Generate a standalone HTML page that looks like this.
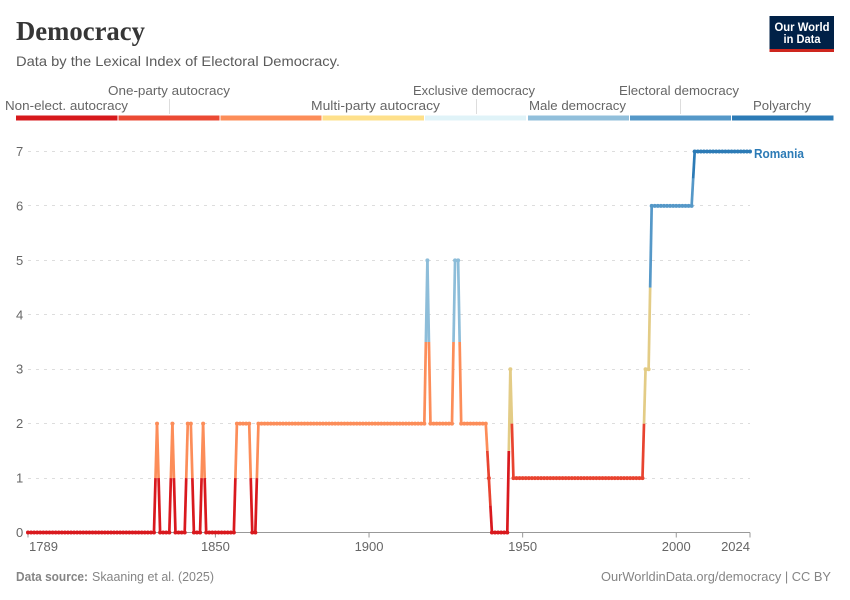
<!DOCTYPE html>
<html lang="en">
<head>
<meta charset="utf-8">
<title>Democracy</title>
<style>
html,body{margin:0;padding:0;background:#fff;}
svg{display:block;font-family:"Liberation Sans",sans-serif;}
</style>
</head>
<body>
<svg id="chart" xmlns="http://www.w3.org/2000/svg" width="850" height="600" viewBox="0 0 850 600">
  <text x="16" y="40" font-family="'Liberation Serif',serif" font-weight="bold" font-size="27" fill="#363636" textLength="129" lengthAdjust="spacingAndGlyphs">Democracy</text>
  <text x="16" y="66" font-size="14" fill="#5b5b5b" textLength="324" lengthAdjust="spacingAndGlyphs">Data by the Lexical Index of Electoral Democracy.</text>

  <g>
    <rect x="769.5" y="16" width="64.5" height="36" fill="#002147"/>
    <rect x="769.5" y="49" width="64.5" height="3" fill="#ce261e"/>
    <text x="802" y="31" text-anchor="middle" font-size="12" font-weight="bold" fill="#fff" textLength="55" lengthAdjust="spacingAndGlyphs">Our World</text>
    <text x="802" y="43" text-anchor="middle" font-size="12" font-weight="bold" fill="#fff" textLength="37" lengthAdjust="spacingAndGlyphs">in Data</text>
  </g>

  <g font-size="13" fill="#666">
    <line x1="169.5" x2="169.5" y1="99" y2="114" stroke="#ddd"/>
    <line x1="476.5" x2="476.5" y1="99" y2="114" stroke="#ddd"/>
    <line x1="680.5" x2="680.5" y1="99" y2="114" stroke="#ddd"/>
    <text x="5" y="110" textLength="123" lengthAdjust="spacingAndGlyphs">Non-elect. autocracy</text>
    <text x="108" y="95" textLength="122" lengthAdjust="spacingAndGlyphs">One-party autocracy</text>
    <text x="311" y="110" textLength="129" lengthAdjust="spacingAndGlyphs">Multi-party autocracy</text>
    <text x="413" y="95" textLength="122" lengthAdjust="spacingAndGlyphs">Exclusive democracy</text>
    <text x="529" y="110" textLength="97" lengthAdjust="spacingAndGlyphs">Male democracy</text>
    <text x="619" y="95" textLength="120" lengthAdjust="spacingAndGlyphs">Electoral democracy</text>
    <text x="753" y="110" textLength="58" lengthAdjust="spacingAndGlyphs">Polyarchy</text>
    <rect x="16" y="115.5" width="101.5" height="5" fill="#d7191c"/>
    <rect x="118.5" y="115.5" width="101" height="5" fill="#eb4a34"/>
    <rect x="220.5" y="115.5" width="101" height="5" fill="#fc8d59"/>
    <rect x="322.5" y="115.5" width="101.5" height="5" fill="#fee08b"/>
    <rect x="425" y="115.5" width="101" height="5" fill="#e0f3f8"/>
    <rect x="528" y="115.5" width="101" height="5" fill="#91bfdb"/>
    <rect x="630" y="115.5" width="101" height="5" fill="#5598c8"/>
    <rect x="732" y="115.5" width="101.5" height="5" fill="#2c7bb6"/>
  </g>

  <g id="grid"></g>
  <g id="yaxis"></g>
  <g id="xaxis"></g>
  <g id="series"></g>

  <text id="series-label" x="754" y="158" font-size="12.5" font-weight="bold" fill="#2c7bb6" textLength="50" lengthAdjust="spacingAndGlyphs">Romania</text>

  <text y="581" font-size="13" fill="#858585"><tspan x="16" font-weight="bold" textLength="72" lengthAdjust="spacingAndGlyphs">Data source:</tspan><tspan x="92" textLength="122" lengthAdjust="spacingAndGlyphs">Skaaning et al. (2025)</tspan></text>
  <text x="601" y="581" font-size="13" fill="#858585" textLength="230" lengthAdjust="spacingAndGlyphs">OurWorldinData.org/democracy | CC BY</text>
</svg>

<script>
const firstYear = 1789;
const lastYear = 2024;
const values = [
  0,0,0,0,0,0,0,0,0,0,0,0,0,0,0,0,0,0,0,0,0,
  0,0,0,0,0,0,0,0,0,0,0,0,0,0,0,0,0,0,0,0,0,
  2,0,0,0,0,2,0,0,0,0,2,2,0,0,0,2,
  0,0,0,0,0,0,0,0,0,0,
  2,2,2,2,2,0,0,
  2,2,2,2,2,2,2,2,2,2,2,2,2,2,2,2,2,2,2,2,2,2,2,2,2,2,2,
  2,2,2,2,2,2,2,2,2,2,2,2,2,2,2,2,2,2,2,2,2,2,2,2,2,2,2,2,
  5,2,2,2,2,2,2,2,2,5,5,
  2,2,2,2,2,2,2,2,2,1,
  0,0,0,0,0,0,3,
  1,1,1,1,1,1,1,1,1,1,1,1,1,1,1,1,1,1,1,1,1,1,
  1,1,1,1,1,1,1,1,1,1,1,1,1,1,1,1,1,1,1,1,1,
  3,3,
  6,6,6,6,6,6,6,6,6,6,6,6,6,6,
  7,7,7,7,7,7,7,7,7,7,7,7,7,7,7,7,7,7,7
];
const yTicks = [0, 1, 2, 3, 4, 5, 6, 7];
const xTicks = [1789, 1850, 1900, 1950, 2000, 2024];
const levelColors = ["#d9191e", "#e8432f", "#fc8d59", "#e3cc86", "#c5e2ea", "#8dbdd9", "#5598c8", "#2c7bb6"];

const NS = "http://www.w3.org/2000/svg";
function xScale(year) {
  return 28 + (year - firstYear) * (750 - 28) / (lastYear - firstYear);
}
function yScale(v) {
  return 532.5 - v * (532.5 - 151.5) / 7;
}
function make(tag, attrs, parent) {
  const el = document.createElementNS(NS, tag);
  for (const k in attrs) el.setAttribute(k, attrs[k]);
  parent.appendChild(el);
  return el;
}

const gridGroup = document.getElementById("grid");
const yAxisGroup = document.getElementById("yaxis");
const xAxisGroup = document.getElementById("xaxis");
const seriesGroup = document.getElementById("series");

yTicks.forEach(function (t) {
  const y = yScale(t);
  if (t > 0) {
    const snapped = Math.floor(y) + 0.5;
    const g = make("line", { x1: 28, x2: 750, y1: snapped, y2: snapped, stroke: "#dddddd", "stroke-dasharray": "3,5" }, gridGroup);
    
    
  }
  const lab = make("text", { x: 16, y: y + 4.5, "font-size": 13, fill: "#666" }, yAxisGroup);
  
  
  lab.textContent = String(t);
});

const axisLine = make("line", { x1: 28, x2: 750, y1: 532.5, y2: 532.5, stroke: "#999" }, xAxisGroup);



xTicks.forEach(function (yr, i) {
  const x = xScale(yr);
  const tick = make("line", { x1: x, x2: x, y1: 532.5, y2: 537.5, stroke: "#999" }, xAxisGroup);
  
  
  const anchor = i === 0 ? "start" : (i === xTicks.length - 1 ? "end" : "middle");
  const lab = make("text", { x: i === 0 ? x + 1 : x, y: 551, "font-size": 13, fill: "#666", "text-anchor": anchor }, xAxisGroup);
  
  
  lab.textContent = String(yr);
});

function addSegment(x1, y1, x2, y2, color) {
  const seg = make("line", { x1: x1, y1: y1, x2: x2, y2: y2, stroke: color, "stroke-width": 2.7, "stroke-linecap": "butt" }, seriesGroup);
  
  
}

values.forEach(function (v, i) {
  if (i === 0) return;
  const p = values[i - 1];
  const x0 = xScale(firstYear + i - 1);
  const x1 = xScale(firstYear + i);
  const y0 = yScale(p);
  const y1 = yScale(v);
  if (p === v) {
    addSegment(x0, y0, x1, y1, levelColors[v]);
  } else {
    const mx = (x0 + x1) / 2;
    const my = (y0 + y1) / 2;
    addSegment(x0, y0, mx, my, levelColors[p]);
    addSegment(mx, my, x1, y1, levelColors[v]);
  }
});

values.forEach(function (v, i) {
  const dot = make("circle", { cx: xScale(firstYear + i), cy: yScale(v), r: 2, fill: levelColors[v] }, seriesGroup);
  
  
});
</script>
</body>
</html>
